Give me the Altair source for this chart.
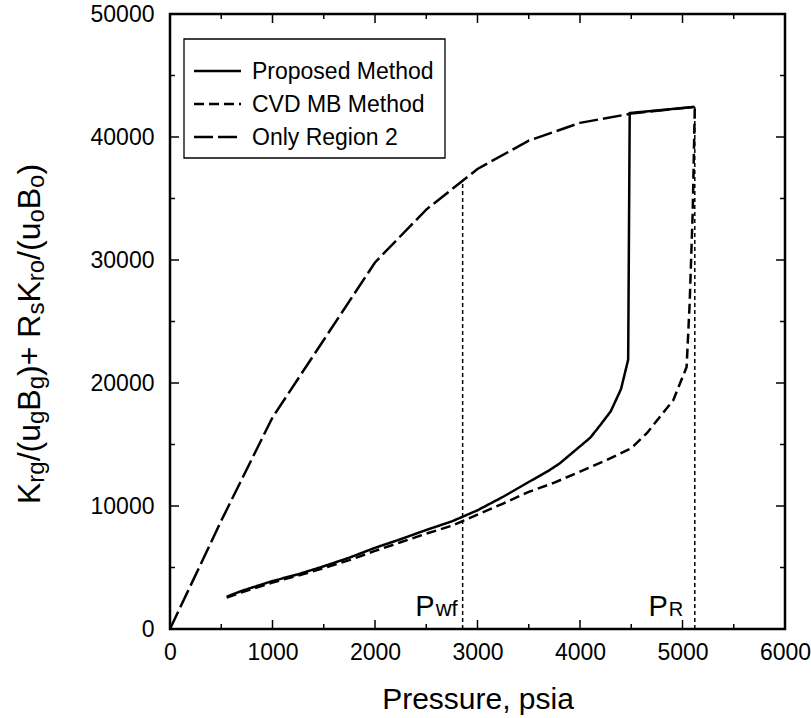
import altair as alt
import pandas as pd

FONT = "Liberation Sans"
W = H = 615

# ---------------- data ----------------
series_names = ["Proposed Method", "CVD MB Method", "Only Region 2"]

prop_p = [553, 700, 1000, 1250, 1500, 1750, 2000, 2250, 2500, 2750, 3000, 3250,
          3500, 3700, 3800, 3900, 4000, 4100, 4200, 4300, 4400, 4470, 4485, 5120]
prop_v = [2630, 3100, 3900, 4450, 5100, 5800, 6600, 7300, 8050, 8750, 9650, 10750,
          11950, 12900, 13450, 14150, 14850, 15550, 16600, 17700, 19500, 21900, 41950, 42450]

cvd_p = [553, 700, 1000, 1250, 1500, 1750, 2000, 2250, 2500, 2750, 3000, 3250,
         3500, 3750, 4000, 4250, 4500, 4650, 4780, 4910, 5040, 5070, 5100, 5120]
cvd_v = [2550, 2980, 3780, 4350, 4950, 5600, 6350, 7050, 7750, 8400, 9300, 10200,
         11150, 11900, 12800, 13700, 14700, 15900, 17250, 18600, 21300, 26500, 34000, 42450]

r2_p = [0, 500, 1000, 1500, 2000, 2500, 3000, 3500, 4000, 4500, 5120]
r2_v = [0, 8800, 17200, 23500, 29800, 34100, 37400, 39700, 41150, 41900, 42450]

ref_p = [2855, 5120]
ref_top = [36400, 42450]

x_major = [0, 1000, 2000, 3000, 4000, 5000, 6000]
x_minor = [500, 1500, 2500, 3500, 4500, 5500]
y_major = [0, 10000, 20000, 30000, 40000, 50000]
y_minor = [5000, 15000, 25000, 35000, 45000]

dash_styles = [[1, 0], [10, 5], [19, 5]]

# ---------------- tables ----------------
rows = []
for name, ps, vs in [(series_names[0], prop_p, prop_v),
                     (series_names[1], cvd_p, cvd_v),
                     (series_names[2], r2_p, r2_v)]:
    for i, (p, v) in enumerate(zip(ps, vs)):
        rows.append({"series": name, "p": p, "v": v, "i": i})
lines_df = pd.DataFrame(rows)
ref_df = pd.DataFrame({"p": ref_p, "y0": [0, 0], "y1": ref_top})

xs = alt.Scale(domain=[0, 6000], nice=False, zero=False)
ys = alt.Scale(domain=[0, 50000], nice=False, zero=False)

lines = alt.Chart(lines_df).mark_line(strokeWidth=2.5, color="black", strokeCap="butt").encode(
    x=alt.X("p:Q", scale=xs,
            axis=alt.Axis(values=x_major, format="d", title="Pressure, psia",
                          labelPadding=12, titlePadding=20, ticks=False, tickSize=0,
                          domain=False, grid=False, labelFlush=False, labelOverlap=False)),
    y=alt.Y("v:Q", scale=ys,
            axis=alt.Axis(values=y_major, format="d", title=None,
                          labelPadding=16, ticks=False, tickSize=0, domain=False, grid=False,
                          labelFlush=False, labelOverlap=False)),
    strokeDash=alt.StrokeDash(
        "series:N",
        scale=alt.Scale(domain=series_names, range=dash_styles),
        legend=None,
    ),
    order=alt.Order("i:Q"),
)

refs = alt.Chart(ref_df).mark_rule(strokeDash=[4, 3], strokeWidth=1.5, color="black").encode(
    x="p:Q", y="y0:Q", y2="y1:Q")

# inward ticks on all four sides
def xticks(vals, length):
    d = pd.DataFrame({"t": vals})
    bot = alt.Chart(d).mark_rule(color="black", strokeWidth=1.5).encode(
        x="t:Q", y=alt.value(H), y2=alt.value(H - length))
    top = alt.Chart(d).mark_rule(color="black", strokeWidth=1.5).encode(
        x="t:Q", y=alt.value(0), y2=alt.value(length))
    return [bot, top]

def yticks(vals, length):
    d = pd.DataFrame({"t": vals})
    lef = alt.Chart(d).mark_rule(color="black", strokeWidth=1.5).encode(
        y="t:Q", x=alt.value(0), x2=alt.value(length))
    rig = alt.Chart(d).mark_rule(color="black", strokeWidth=1.5).encode(
        y="t:Q", x=alt.value(W), x2=alt.value(W - length))
    return [lef, rig]

ticks = xticks(x_major, 9) + xticks(x_minor, 5) + yticks(y_major, 9) + yticks(y_minor, 5)

# legend (drawn by hand)
one = alt.Data(values=[{}])
legend_layers = [
    alt.Chart(one).mark_rect(fill="white", stroke="black", strokeWidth=1.3).encode(
        x=alt.value(14), x2=alt.value(275), y=alt.value(25), y2=alt.value(144))
]
for k, (name, dash) in enumerate(zip(series_names, dash_styles)):
    yc = 57 + 33 * k
    legend_layers.append(
        alt.Chart(one).mark_rule(color="black", strokeWidth=2.5, strokeDash=dash, strokeCap="butt").encode(
            x=alt.value(24), x2=alt.value(71), y=alt.value(yc)))
    legend_layers.append(
        alt.Chart(pd.DataFrame({"t": [name]})).mark_text(
            align="left", baseline="middle", fontSize=23, font=FONT, color="black").encode(
            x=alt.value(82), y=alt.value(yc + 1), text="t:N"))

# P_wf and P_R annotations
lab_text = ["P", "wf", "P", "R"]
lab_p = [2855, 2855, 5120, 5120]
lab_dx = [-28, -27, -27, -26]
lab_align = ["right", "left", "right", "left"]
lab_size = [29, 22, 29, 20]
labels = []
for t, p, dx, al, fs in zip(lab_text, lab_p, lab_dx, lab_align, lab_size):
    labels.append(
        alt.Chart(pd.DataFrame({"p": [p], "t": [t]})).mark_text(
            align=al, baseline="alphabetic", dx=dx, fontSize=fs, font=FONT, color="black"
        ).encode(x="p:Q", y=alt.value(602), text="t:N")
    )

# y-axis title with subscripts
CW = {"K": 667, "r": 333, "g": 556, "/": 278, "(": 333, "u": 556, "B": 667, ")": 333,
      "+": 584, " ": 278, "R": 722, "s": 500, "o": 556}
MAIN, SUB = 32, 24
title_pieces = [("K", MAIN), ("rg", SUB), ("/(u", MAIN), ("g", SUB), ("B", MAIN), ("g", SUB),
                (")+ R", MAIN), ("s", SUB), ("K", MAIN), ("ro", SUB), ("/(u", MAIN), ("o", SUB),
                ("B", MAIN), ("o", SUB), (")", MAIN)]
ytitle = []
ypos = 490.0
for txt, fs in title_pieces:
    xb = -130 if fs == MAIN else -126
    ytitle.append(
        alt.Chart(pd.DataFrame({"t": [txt]})).mark_text(
            align="left", baseline="alphabetic", angle=270, fontSize=fs, font=FONT, color="black"
        ).encode(x=alt.value(xb), y=alt.value(ypos), text="t:N")
    )
    ypos -= sum(CW[c] for c in txt) / 1000 * fs

chart = alt.layer(refs, lines, *ticks, *legend_layers, *labels, *ytitle).properties(
    width=W, height=H,
    background="white",
    autosize=alt.AutoSizeParams(type="none"),
    padding={"left": 170, "top": 14, "right": 26, "bottom": 89},
).configure_view(stroke="black", strokeWidth=2.5).configure_axis(
    grid=False, labelFont=FONT, labelFontSize=23, labelColor="black",
    titleFont=FONT, titleFontSize=30, titleColor="black", titleFontWeight="normal",
)

chart.save("out.html", embed_options={"renderer": "svg", "actions": False})
